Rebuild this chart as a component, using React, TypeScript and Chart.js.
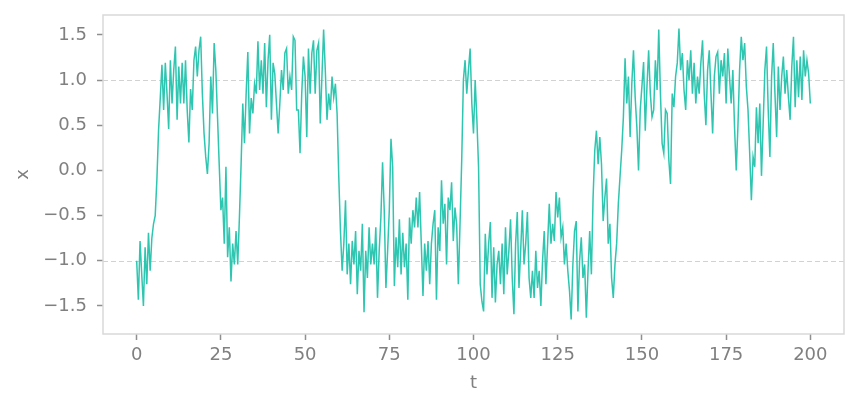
import React, { useEffect, useRef } from "react";
import { Chart, registerables } from "chart.js";

Chart.register(...registerables);

// time axis: sampled every half unit from t = 0 to t = 200
const T_START = 0;
const T_STEP = 0.5;

// x(t)
const X_SERIES = [
  -1.0, -1.43, -0.78, -1.15, -1.5, -0.85, -1.26, -0.69, -1.11, -0.75,
  -0.59, -0.5, -0.1, 0.45, 0.8, 1.17, 0.67, 1.19, 0.85, 0.46,
  1.22, 0.74, 1.11, 1.37, 0.56, 1.15, 0.74, 1.19, 0.74, 1.22,
  0.67, 0.31, 0.9, 0.67, 1.22, 1.37, 1.04, 1.33, 1.48, 0.85,
  0.41, 0.15, -0.04, 0.3, 1.04, 0.63, 1.41, 1.11, 0.59, 0.07,
  -0.44, -0.3, -0.81, 0.04, -0.96, -0.63, -1.23, -0.81, -1.04, -0.67,
  -1.04, -0.52, 0.07, 0.74, 0.3, 0.85, 1.31, 0.41, 0.8, 0.63,
  0.96, 0.85, 1.43, 0.89, 1.22, 0.85, 1.41, 0.7, 1.22, 1.5,
  0.56, 1.19, 1.07, 0.74, 0.41, 0.74, 1.11, 0.89, 1.3, 1.35,
  0.85, 1.04, 0.89, 1.48, 1.44, 0.67, 0.67, 0.19, 0.85, 1.26,
  1.04, 0.37, 1.35, 0.85, 1.3, 1.44, 0.85, 1.33, 1.41, 0.52,
  1.04, 1.56, 1.11, 0.56, 0.85, 0.67, 1.04, 0.81, 0.96, 0.63,
  -0.07, -0.67, -1.11, -0.81, -0.33, -1.15, -0.81, -1.26, -0.78, -1.04,
  -0.67, -1.37, -0.89, -1.11, -0.59, -1.57, -0.89, -1.19, -0.63, -1.04,
  -0.81, -1.04, -0.63, -1.41, -0.89, -0.52, 0.09, -0.44, -1.3, -0.89,
  -0.44, 0.35, 0.04, -1.28, -0.74, -1.07, -0.54, -1.15, -0.69, -1.07,
  -0.81, -1.43, -0.52, -0.81, -0.44, -0.63, -0.3, -0.63, -0.24, -0.81,
  -1.39, -0.81, -1.11, -0.78, -1.26, -0.81, -0.59, -0.44, -1.43, -0.63,
  -0.89, -0.11, -0.59, -0.37, -1.04, -0.3, -0.44, -0.13, -0.78, -0.41,
  -0.6, -1.26, -0.59, 0.11, 1.0, 1.22, 0.85, 1.11, 1.35, 0.74,
  0.41, 1.0, 0.56, 0.04, -1.26, -1.45, -1.56, -0.7, -1.15, -0.81,
  -0.57, -1.41, -0.85, -1.46, -1.04, -0.89, -1.26, -0.81, -1.37, -0.63,
  -1.15, -0.89, -0.54, -1.19, -1.59, -0.81, -0.46, -1.3, -0.89, -0.44,
  -1.04, -0.81, -0.46, -1.19, -1.41, -1.11, -1.41, -0.89, -1.3, -1.11,
  -1.5, -1.0, -0.67, -1.26, -0.81, -0.37, -0.81, -0.59, -0.78, -0.24,
  -0.52, -0.3, -0.74, -0.63, -1.04, -0.81, -1.11, -1.33, -1.65, -1.04,
  -0.67, -0.56, -1.56, -1.0, -0.74, -1.19, -1.04, -1.63, -1.11, -0.67,
  -1.15, -0.3, 0.22, 0.44, 0.07, 0.37, 0.07, -0.56, -0.3, -0.09,
  -0.81, -0.59, -1.19, -1.41, -1.04, -0.81, -0.37, -0.07, 0.22, 0.59,
  1.24, 0.74, 1.04, 0.37, 0.96, 1.33, 0.81, 0.48, 0.0, 0.67,
  0.93, 1.2, 0.44, 0.93, 1.33, 0.85, 0.59, 0.67, 1.22, 0.89,
  1.56, 0.85, 0.3, 0.19, 0.67, 0.63, 0.11, -0.15, 0.85, 0.7,
  1.04, 1.19, 1.57, 1.11, 1.3, 0.89, 0.67, 1.22, 1.0, 1.33,
  0.85, 1.19, 0.74, 1.04, 0.85, 1.19, 1.44, 0.85, 0.5, 1.11,
  1.33, 0.85, 0.41, 1.04, 1.26, 1.31, 0.85, 1.22, 1.04, 1.3,
  0.74, 1.35, 1.04, 0.74, 1.11, 0.48, 0.0, 0.48, 1.11, 1.48,
  1.22, 1.41, 0.93, 0.67, 0.19, -0.33, 0.15, 0.04, 0.7, 0.3,
  0.74, -0.06, 0.52, 1.11, 1.37, 0.67, 0.15, 1.04, 1.41, 0.85,
  0.37, 1.15, 0.67, 1.04, 1.26, 0.85, 1.11, 0.81, 0.56, 1.15,
  1.48, 0.7, 1.22, 0.81, 1.26, 0.78, 1.33, 1.04, 1.22, 1.07,
  0.74,
];

const X_TICKS = [0, 25, 50, 75, 100, 125, 150, 175, 200];
const Y_TICKS = [-1.5, -1.0, -0.5, 0.0, 0.5, 1.0, 1.5];
const REF_LINES = [-1, 1];
const X_LIMITS = [-10, 210];
const Y_LIMITS = [-1.81, 1.72];
const X_TITLE = "t";
const Y_TITLE = "x";

const LINE_COLOR = "#2ec6b0";
const FRAME_COLOR = "#d9d9d9";
const TICK_COLOR = "#8f8f8f";
const TEXT_COLOR = "#808080";
const FONT = "'DejaVu Sans', sans-serif";

const framePlugin = {
  id: "frameAndRefs",
  beforeDatasetsDraw(chart: any) {
    const { ctx, chartArea: a, scales } = chart;
    ctx.save();
    ctx.strokeStyle = "#d2d2d2";
    ctx.lineWidth = 1;
    ctx.setLineDash([5, 3]);
    REF_LINES.forEach((v) => {
      const y = Math.round(scales.y.getPixelForValue(v)) + 0.5;
      ctx.beginPath();
      ctx.moveTo(a.left, y);
      ctx.lineTo(a.right, y);
      ctx.stroke();
    });
    ctx.restore();
  },
  afterDraw(chart: any) {
    const { ctx, chartArea: a } = chart;
    ctx.save();
    ctx.strokeStyle = FRAME_COLOR;
    ctx.lineWidth = 1.5;
    ctx.strokeRect(a.left, a.top, a.right - a.left, a.bottom - a.top);
    ctx.restore();
  },
};

export default function App() {
  const ref = useRef<HTMLCanvasElement | null>(null);

  useEffect(() => {
    if (!ref.current) return;
    const points = X_SERIES.map((v, i) => ({ x: T_START + i * T_STEP, y: v }));
    const chart = new Chart(ref.current, {
      type: "line",
      data: {
        datasets: [
          {
            data: points,
            borderColor: LINE_COLOR,
            borderWidth: 1.5,
            pointRadius: 0,
            tension: 0,
            fill: false,
          },
        ],
      },
      options: {
        animation: false,
        responsive: false,
        devicePixelRatio: 1,
        layout: { padding: { left: 0, top: 15, right: 15, bottom: 0 } },
        plugins: { legend: { display: false }, tooltip: { enabled: false } },
        scales: {
          x: {
            type: "linear",
            min: X_LIMITS[0],
            max: X_LIMITS[1],
            afterBuildTicks: (s: any) => {
              s.ticks = X_TICKS.map((v) => ({ value: v }));
            },
            afterFit: (s: any) => {
              s.height = 75;
              s.paddingLeft = 0;
              s.paddingRight = 0;
            },
            grid: {
              drawOnChartArea: false,
              drawTicks: true,
              tickLength: 6,
              color: "rgba(0,0,0,0)",
              tickColor: TICK_COLOR,
              tickWidth: 1.5,
            },
            border: { display: false },
            ticks: {
              color: TEXT_COLOR,
              font: { family: FONT, size: 18 },
              padding: 5,
              maxRotation: 0,
              callback: (v: any) => String(v),
            },
            title: {
              display: true,
              text: X_TITLE,
              color: TEXT_COLOR,
              font: { family: FONT, size: 18 },
              padding: { top: 0, bottom: 15 },
            },
          },
          y: {
            type: "linear",
            min: Y_LIMITS[0],
            max: Y_LIMITS[1],
            afterBuildTicks: (s: any) => {
              s.ticks = Y_TICKS.map((v) => ({ value: v }));
            },
            afterFit: (s: any) => {
              s.width = 103;
              s.paddingTop = 0;
              s.paddingBottom = 0;
            },
            grid: {
              drawOnChartArea: false,
              drawTicks: true,
              tickLength: 6,
              color: "rgba(0,0,0,0)",
              tickColor: TICK_COLOR,
              tickWidth: 1.5,
            },
            border: { display: false },
            ticks: {
              color: TEXT_COLOR,
              font: { family: FONT, size: 18 },
              padding: 10,
              callback: (v: any) =>
                (Number(v) < 0 ? "\u2212" : "") + Math.abs(Number(v)).toFixed(1),
            },
            title: {
              display: true,
              text: Y_TITLE,
              color: TEXT_COLOR,
              font: { family: FONT, size: 18 },
              padding: { top: 13, bottom: 0 },
            },
          },
        },
      },
      plugins: [framePlugin],
    });
    return () => chart.destroy();
  }, []);

  return (
    <div style={{ position: "absolute", left: 0, top: 0, width: 859, height: 409, background: "#fff" }}>
      <canvas ref={ref} width={859} height={409} />
    </div>
  );
}
